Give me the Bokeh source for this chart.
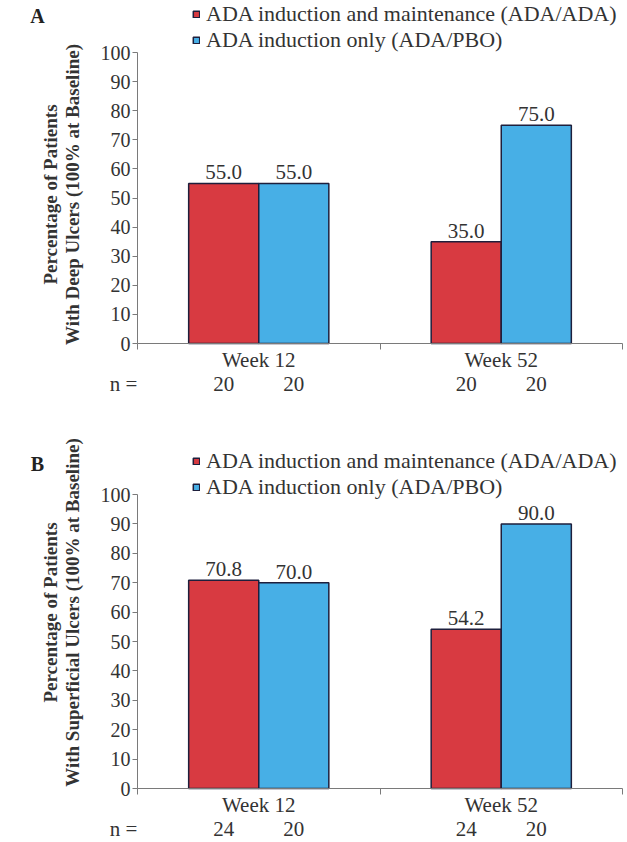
import math
from bokeh.plotting import figure
from bokeh.models import (Range1d, FixedTicker, SingleIntervalTicker, Legend, LegendItem,
                          Label, LabelSet, ColumnDataSource)
from bokeh.layouts import column
from bokeh.embed import file_html
from bokeh.resources import INLINE

# ---------------- data ----------------
categories = ["Week 12", "Week 52"]
series_names = ["ADA induction and maintenance (ADA/ADA)", "ADA induction only (ADA/PBO)"]

a_ada_ada = [55.0, 35.0]
a_ada_pbo = [55.0, 75.0]
a_n_ada_ada = [20, 20]
a_n_ada_pbo = [20, 20]

b_ada_ada = [70.8, 54.2]
b_ada_pbo = [70.0, 90.0]
b_n_ada_ada = [24, 24]
b_n_ada_pbo = [20, 20]

y_label_line1 = "Percentage of Patients"
a_y_label_line2 = "With Deep Ulcers (100% at Baseline)"
b_y_label_line2 = "With Superficial Ulcers (100% at Baseline)"

# ---------------- style / layout ----------------
RED = "#D83A41"
BLUE = "#47AFE6"
EDGE = "#1E1F3C"
AXIS = "#7a7a7a"
TXT = "#333333"
FONT = "Liberation Serif"
BAR_W = 0.289
OFF = 0.1445
W = 627
X0_PX, X2_PX = 137.0, 622.0   # pixel position of x=0 and x=2


def make_panel(letter, line2, s1, s2, n1, n2, fig_top, fig_h, y0_px, y100_px,
               letter_y, legend_bottom, ylab_y, n_y):
    def sy(page_y):
        return fig_top + fig_h - page_y

    xs = (X2_PX - X0_PX) / 2.0
    ys = (y0_px - y100_px) / 100.0
    x_range = Range1d((0 - X0_PX) / xs, (W - X0_PX) / xs)
    y_range = Range1d((y0_px - (fig_top + fig_h)) / ys, (y0_px - fig_top) / ys)

    p = figure(width=W, height=fig_h, x_range=x_range, y_range=y_range,
               output_backend="svg", toolbar_location=None,
               min_border=0, min_border_left=0, min_border_right=0,
               min_border_top=0, min_border_bottom=0)
    p.outline_line_color = None
    p.grid.visible = False
    p.background_fill_color = "white"
    p.border_fill_color = "white"

    centers = [i + 0.5 for i in range(len(categories))]
    x1 = [c - OFF for c in centers]
    x2 = [c + OFF for c in centers]

    src1 = ColumnDataSource(dict(x=x1, top=s1, lab=["%.1f" % v for v in s1], n=[str(v) for v in n1]))
    src2 = ColumnDataSource(dict(x=x2, top=s2, lab=["%.1f" % v for v in s2], n=[str(v) for v in n2]))

    r1 = p.vbar(x="x", top="top", width=BAR_W, bottom=0, source=src1,
                fill_color=RED, line_color=EDGE, line_width=1.5)
    r2 = p.vbar(x="x", top="top", width=BAR_W, bottom=0, source=src2,
                fill_color=BLUE, line_color=EDGE, line_width=1.5)

    for src in (src1, src2):
        p.add_layout(LabelSet(x="x", y="top", text="lab", source=src, y_offset=4,
                              text_align="center", text_baseline="bottom",
                              text_font=FONT, text_font_size="21px", text_color=TXT))
        p.add_layout(LabelSet(x="x", y=sy(n_y), y_units="screen", text="n", source=src,
                              text_align="center", text_baseline="middle",
                              text_font=FONT, text_font_size="21px", text_color=TXT))

    p.add_layout(Label(x=123, y=sy(n_y), x_units="screen", y_units="screen", text="n =",
                       text_align="center", text_baseline="middle",
                       text_font=FONT, text_font_size="21px", text_color=TXT))

    # x axis (fixed at y=0)
    xa = p.xaxis[0]
    xa.fixed_location = 0
    xa.bounds = (0, 2)
    xa.ticker = FixedTicker(ticks=centers, minor_ticks=[0, 1, 2])
    xa.major_label_overrides = {c: cat for c, cat in zip(centers, categories)}
    xa.major_tick_out = 0
    xa.major_tick_in = 0
    xa.minor_tick_out = 6
    xa.minor_tick_in = 0
    xa.minor_tick_line_color = AXIS
    xa.axis_line_color = AXIS
    xa.major_label_standoff = -2
    xa.major_label_text_font = FONT
    xa.major_label_text_font_size = "21px"
    xa.major_label_text_color = TXT

    # y axis (fixed at x=0)
    ya = p.yaxis[0]
    ya.fixed_location = 0
    ya.bounds = (0, 100)
    ya.ticker = SingleIntervalTicker(interval=10, num_minor_ticks=0)
    ya.major_tick_out = 5
    ya.major_tick_in = 0
    ya.minor_tick_out = 0
    ya.minor_tick_in = 0
    ya.axis_line_color = AXIS
    ya.major_tick_line_color = AXIS
    ya.major_label_standoff = 2
    ya.major_label_text_font = FONT
    ya.major_label_text_font_size = "20px"
    ya.major_label_text_color = TXT

    for txt, px in ((y_label_line1, 50), (line2, 72)):
        p.add_layout(Label(x=px, y=sy(ylab_y), x_units="screen", y_units="screen", text=txt,
                           angle=math.pi / 2, text_align="center", text_baseline="middle",
                           text_font=FONT, text_font_size="19px", text_font_style="bold",
                           text_color=TXT))

    p.add_layout(Label(x=37, y=sy(letter_y), x_units="screen", y_units="screen", text=letter,
                       text_align="center", text_baseline="middle",
                       text_font=FONT, text_font_size="20px", text_font_style="bold",
                       text_color="#222222"))

    legend = Legend(items=[LegendItem(label=series_names[0], renderers=[r1]),
                           LegendItem(label=series_names[1], renderers=[r2])],
                    location=(192, sy(legend_bottom)),
                    orientation="vertical",
                    glyph_width=8, glyph_height=8, label_standoff=6,
                    label_height=23, spacing=0, padding=0, margin=0,
                    border_line_color=None, background_fill_alpha=0,
                    label_text_font=FONT, label_text_font_size="22px",
                    label_text_color=TXT)
    p.add_layout(legend, "center")
    return p


pa = make_panel("A", a_y_label_line2, a_ada_ada, a_ada_pbo, a_n_ada_ada, a_n_ada_pbo,
                fig_top=0, fig_h=405, y0_px=343, y100_px=52,
                letter_y=15, legend_bottom=52.5, ylab_y=194, n_y=383)
pb = make_panel("B", b_y_label_line2, b_ada_ada, b_ada_pbo, b_n_ada_ada, b_n_ada_pbo,
                fig_top=405, fig_h=437, y0_px=788, y100_px=494,
                letter_y=463, legend_bottom=499.5, ylab_y=612, n_y=828)

layout = column(pa, pb, spacing=0)
open("out.html", "w").write(file_html(layout, INLINE))
